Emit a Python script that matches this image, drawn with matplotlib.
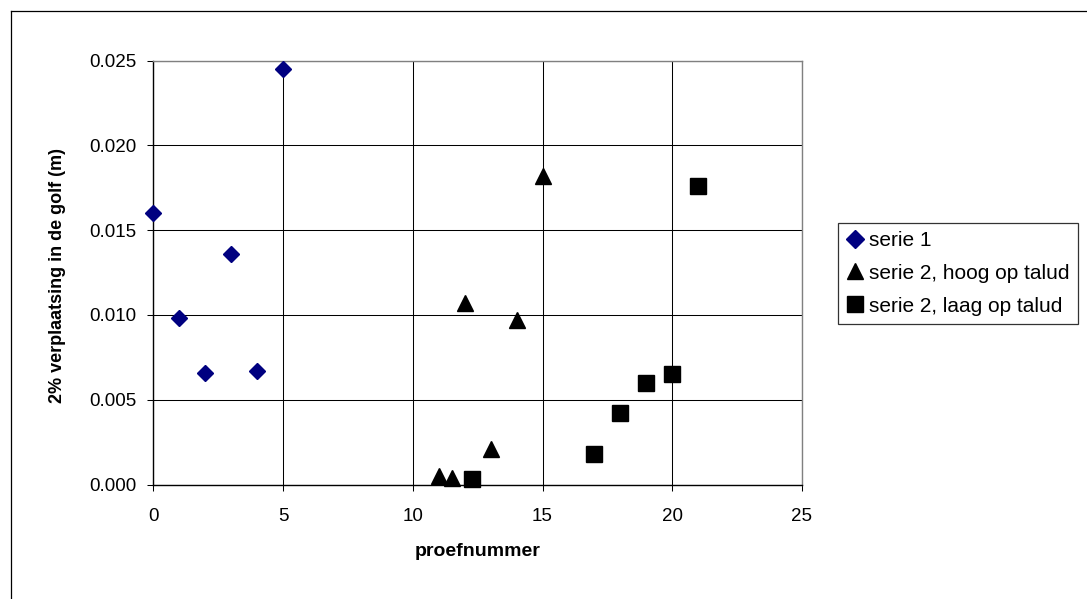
import matplotlib
matplotlib.use("Agg")
import matplotlib.pyplot as plt
from matplotlib.lines import Line2D
from matplotlib.ticker import FormatStrFormatter, MultipleLocator

# Measurements: test number vs 2% displacement in the wave (m)
serie1_x = [0, 1, 2, 3, 4, 5]
serie1_y = [0.0160, 0.0098, 0.0066, 0.0136, 0.0067, 0.0245]

hoog_x = [11, 11.5, 12, 13, 14, 15]
hoog_y = [0.0005, 0.0004, 0.0107, 0.0021, 0.0097, 0.0182]

laag_x = [12.3, 17, 18, 19, 20, 21]
laag_y = [0.0003, 0.0018, 0.0042, 0.0060, 0.0065, 0.0176]

labels = ["serie 1", "serie 2, hoog op talud", "serie 2, laag op talud"]

plt.rcParams["font.family"] = ["Liberation Sans", "DejaVu Sans"]

W, H = 1087, 599
fig = plt.figure(figsize=(W / 100, H / 100), dpi=100)
fig.patch.set_facecolor("white")

# plot area in pixel coordinates
left, right, top, bottom = 153.3, 802.0, 60.7, 484.5
ax = fig.add_axes([left / W, 1 - bottom / H, (right - left) / W, (bottom - top) / H])

ax.plot(serie1_x, serie1_y, linestyle="none", marker="D", markersize=8.2,
        color="#000080", label=labels[0], zorder=5, clip_on=False)
ax.plot(hoog_x, hoog_y, linestyle="none", marker="^", markersize=11,
        color="black", label=labels[1], zorder=5, clip_on=False)
ax.plot(laag_x, laag_y, linestyle="none", marker="s", markersize=11,
        color="black", label=labels[2], zorder=5, clip_on=False)

ax.set_xlim(0, 25)
ax.set_ylim(0, 0.025)
ax.xaxis.set_major_locator(MultipleLocator(5))
ax.yaxis.set_major_locator(MultipleLocator(0.005))
ax.yaxis.set_major_formatter(FormatStrFormatter("%.3f"))

ax.grid(True, color="black", linewidth=0.75)
ax.set_axisbelow(True)

for side in ("top", "right"):
    ax.spines[side].set_color("#808080")
    ax.spines[side].set_linewidth(1.0)
for side in ("left", "bottom"):
    ax.spines[side].set_color("black")
    ax.spines[side].set_linewidth(1.0)

ax.tick_params(axis="both", direction="out", length=4.3, width=0.75,
               color="black", labelsize=13.5)
ax.tick_params(axis="y", pad=7.6)
ax.tick_params(axis="x", pad=12.5)

ax.set_xlabel("proefnummer", fontsize=14, fontweight="bold")
ax.xaxis.set_label_coords(0.5, -0.138)
ax.xaxis.label.set_va("top")

fig.text(58 / W, 1 - 276 / H, "2% verplaatsing in de golf (m)", rotation=90,
         ha="center", va="center", fontsize=13, fontweight="bold")

leg = fig.legend(loc="upper left", bbox_to_anchor=(838 / W, 1 - 222.7 / H),
                 frameon=True, fancybox=False, fontsize=15,
                 handlelength=0.8, handletextpad=0.3, borderpad=0.4,
                 labelspacing=0.66, borderaxespad=0.0, markerscale=1.1)
leg.get_frame().set_edgecolor("black")
leg.get_frame().set_linewidth(0.9)

# outer chart border
fig.add_artist(Line2D([10.5 / W, 10.5 / W], [0, 1 - 10.5 / H],
                      transform=fig.transFigure, color="black", linewidth=0.9))
fig.add_artist(Line2D([10.5 / W, 1], [1 - 10.5 / H, 1 - 10.5 / H],
                      transform=fig.transFigure, color="black", linewidth=0.9))

fig.savefig("out.png", dpi=100)
